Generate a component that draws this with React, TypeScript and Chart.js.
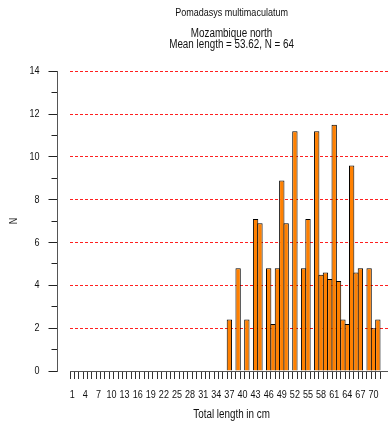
import React, { useEffect, useRef } from 'react';
import { Chart, registerables } from 'chart.js';

Chart.register(...registerables);

// Length classes (cm). 72-74 are empty classes at the right end of the axis.
const lengthClasses = [
  '1', '2', '3', '4', '5', '6', '7', '8', '9', '10',
  '11', '12', '13', '14', '15', '16', '17', '18', '19', '20',
  '21', '22', '23', '24', '25', '26', '27', '28', '29', '30',
  '31', '32', '33', '34', '35', '36', '37', '38', '39', '40',
  '41', '42', '43', '44', '45', '46', '47', '48', '49', '50',
  '51', '52', '53', '54', '55', '56', '57', '58', '59', '60',
  '61', '62', '63', '64', '65', '66', '67', '68', '69', '70',
  '71', '72', '73', '74',
];

// Frequencies N for classes 1..71
const counts = [
  0, 0, 0, 0, 0, 0, 0, 0, 0, 0,
  0, 0, 0, 0, 0, 0, 0, 0, 0, 0,
  0, 0, 0, 0, 0, 0, 0, 0, 0, 0,
  0, 0, 0, 0, 0, 0, 2.4, 0, 4.8, 0,
  2.4, 0, 7.1, 6.9, 0, 4.8, 2.2, 4.8, 8.9, 6.9,
  0, 11.2, 0, 4.8, 7.1, 0, 11.2, 4.5, 4.6, 4.3,
  11.5, 4.2, 2.4, 2.2, 9.6, 4.6, 4.8, 0, 4.8, 2.0,
  2.4,
];

const xTickLabels = ['1', '4', '7', '10', '13', '16', '19', '22', '25', '28', '31', '34',
  '37', '40', '43', '46', '49', '52', '55', '58', '61', '64', '67', '70'];
const lastTickedClass = '71';
const yMajorTicks = [0, 2, 4, 6, 8, 10, 12, 14];

const titleText = 'Pomadasys multimaculatum';
const subtitleLines = ['Mozambique north', 'Mean length = 53.62, N = 64'];
const xTitle = 'Total length in cm';
const yTitle = 'N';

const FONT = "'Liberation Sans Narrow', 'Liberation Sans', Arial, sans-serif";
const TEXT_SQUEEZE = 0.82; // the reference uses a narrow sans face

const narrowTextPlugin = {
  id: 'narrowText',
  beforeDraw(chart: any) {
    const ctx: any = chart.ctx;
    if (ctx.__narrowed) return;
    ctx.__narrowed = true;
    const orig = ctx.fillText;
    ctx.fillText = function (text: string, x: number, y: number, maxWidth?: number) {
      const w = this.measureText(text).width * TEXT_SQUEEZE;
      const mw = maxWidth !== undefined && maxWidth !== null ? Math.min(maxWidth, w) : w;
      if (!(mw > 0)) return orig.call(this, text, x, y);
      return orig.call(this, text, x, y, mw);
    };
  },
};

export default function App() {
  const canvasRef = useRef<HTMLCanvasElement | null>(null);

  useEffect(() => {
    if (!canvasRef.current) return;
    const lastIdx = lengthClasses.indexOf(lastTickedClass) + 1;
    const chart = new Chart(canvasRef.current, {
      type: 'bar',
      data: {
        labels: lengthClasses,
        datasets: [
          {
            data: counts,
            backgroundColor: '#ff8000',
            borderColor: '#000000',
            borderWidth: 1,
            barPercentage: 1.225,
            categoryPercentage: 1,
            xAxisID: 'x',
            yAxisID: 'y',
          },
        ],
      },
      plugins: [narrowTextPlugin],
      options: {
        animation: false,
        responsive: false,
        maintainAspectRatio: false,
        events: [],
        layout: { padding: { left: 0, right: 4, top: 0, bottom: 0 } },
        font: { family: FONT },
        plugins: {
          legend: { display: false },
          tooltip: { enabled: false },
          title: {
            display: true,
            text: titleText,
            fullSize: false,
            color: '#111',
            font: { family: FONT, size: 11, weight: 'normal', lineHeight: 1.2 },
            padding: { top: 6, bottom: 8 },
          },
          subtitle: {
            display: true,
            text: subtitleLines,
            fullSize: false,
            color: '#111',
            font: { family: FONT, size: 12, weight: 'normal', lineHeight: '11px' },
            padding: { top: 1, bottom: 21 },
          },
        },
        scales: {
          x: {
            type: 'category',
            position: 'bottom',
            offset: true,
            afterFit: (s: any) => { s.height = 57; },
            grid: {
              display: true,
              offset: true,
              drawOnChartArea: false,
              drawTicks: true,
              tickLength: 8,
              tickWidth: 1,
              tickColor: (c: any) => (c.index !== undefined && c.index <= lastIdx ? '#333' : 'rgba(0,0,0,0)'),
            },
            border: { display: true, color: '#555', width: 1 },
            ticks: {
              autoSkip: false,
              maxRotation: 0,
              minRotation: 0,
              padding: 9,
              color: '#111',
              font: { family: FONT, size: 11 },
              callback: (_v: any, i: number) => (xTickLabels.includes(lengthClasses[i]) ? lengthClasses[i] : ''),
            },
            title: {
              display: true,
              text: xTitle,
              color: '#111',
              font: { family: FONT, size: 12, lineHeight: 1.2 },
              padding: { top: 0, bottom: 6 },
            },
          },
          // inner spacer (gap between the y axis and the plot)
          ySpacer: {
            type: 'linear',
            position: 'left',
            weight: 0,
            min: 0,
            max: 14,
            afterFit: (s: any) => { s.width = 12.5; },
            grid: { display: false, drawOnChartArea: false, drawTicks: false },
            border: { display: false },
            ticks: { display: false },
          },
          // axis line with minor ticks
          y: {
            type: 'linear',
            position: 'left',
            weight: 1,
            min: 0,
            max: 14,
            afterFit: (s: any) => { s.width = 6; },
            ticks: { display: false, stepSize: 1 },
            grid: { display: true, drawOnChartArea: false, drawTicks: true, tickLength: 6, tickColor: '#222' },
            border: { display: true, color: '#555', width: 1 },
          },
          // labels, long part of major ticks, dashed red grid
          yLabels: {
            type: 'linear',
            position: 'left',
            weight: 2,
            min: 0,
            max: 14,
            afterFit: (s: any) => { s.width = 51.5; },
            afterBuildTicks: (s: any) => { s.ticks = yMajorTicks.map((v) => ({ value: v })); },
            ticks: {
              display: true,
              padding: 9,
              color: '#111',
              font: { family: FONT, size: 11 },
            },
            grid: {
              display: true,
              drawOnChartArea: true,
              drawTicks: true,
              tickLength: 3,
              tickColor: '#222',
              color: (c: any) => (c.tick && c.tick.value > 0 ? '#ff2020' : 'rgba(0,0,0,0)'),
              lineWidth: 1,
            },
            border: { display: false, dash: [3, 2] },
            title: {
              display: true,
              text: yTitle,
              color: '#111',
              font: { family: FONT, size: 11, lineHeight: 1.2 },
              padding: { top: 7, bottom: 0 },
            },
          },
        },
      } as any,
    });
    return () => chart.destroy();
  }, []);

  return (
    <div style={{ position: 'fixed', left: 0, top: 0, width: 388, height: 428, overflow: 'hidden', background: '#fff' }}>
      <canvas ref={canvasRef} width={400} height={428} style={{ display: 'block' }} />
    </div>
  );
}
